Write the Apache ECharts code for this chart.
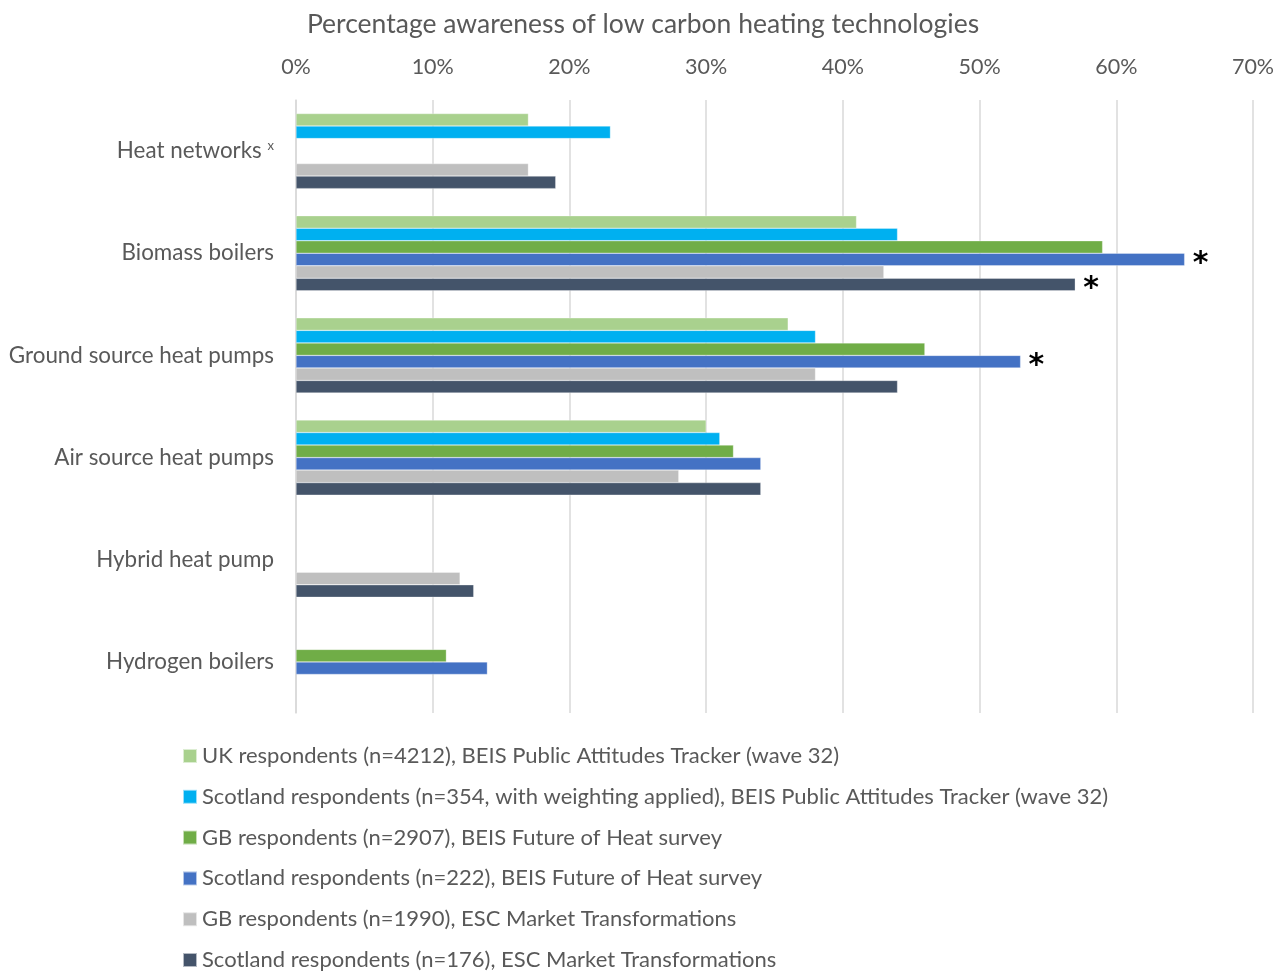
<!DOCTYPE html>
<html>
<head>
<meta charset="utf-8">
<script src="https://cdn.jsdelivr.net/npm/echarts@6/dist/echarts.min.js"></script>
<style>html,body{margin:0;padding:0;background:#fff}#c{width:1286px;height:972px}</style>
</head>
<body>
<div id="c"></div>
<script>
const categories = ['Heat networks', 'Biomass boilers', 'Ground source heat pumps', 'Air source heat pumps', 'Hybrid heat pump', 'Hydrogen boilers'];
const seriesNames = [
  'UK respondents (n=4212), BEIS Public Attitudes Tracker (wave 32)',
  'Scotland respondents (n=354, with weighting applied), BEIS Public Attitudes Tracker (wave 32)',
  'GB respondents (n=2907), BEIS Future of Heat survey',
  'Scotland respondents (n=222), BEIS Future of Heat survey',
  'GB respondents (n=1990), ESC Market Transformations',
  'Scotland respondents (n=176), ESC Market Transformations'
];
const ukPAT = [17, 41, 36, 30, null, null];
const scotPAT = [23, 44, 38, 31, null, null];
const gbFoH = [null, 59, 46, 32, null, 11];
const scotFoH = [null, 65, 53, 34, null, 14];
const gbESC = [17, 43, 38, 28, 12, null];
const scotESC = [19, 57, 44, 34, 13, null];
// significance markers (*)
const sigScotFoH = [false, true, true, false, false, false];
const sigScotESC = [false, true, false, false, false, false];
const xTicks = [0, 10, 20, 30, 40, 50, 60, 70];

const colors = ['#A9D18E', '#00B0F0', '#70AD47', '#4472C4', '#BFBFBF', '#44546A'];
const values = [ukPAT, scotPAT, gbFoH, scotFoH, gbESC, scotESC];
const sigs = [null, null, null, sigScotFoH, null, sigScotESC];
const FONT = 'Lato';

const chart = echarts.init(document.getElementById('c'));
chart.setOption({
  backgroundColor: '#fff',
  animation: false,
  textStyle: { fontFamily: FONT },
  title: {
    text: 'Percentage awareness of low carbon heating technologies',
    left: 'center', top: 6,
    textStyle: { fontFamily: FONT, fontSize: 26.5, fontWeight: 'normal', color: '#595959' }
  },
  legend: {
    orient: 'vertical', left: 177, top: 740, height: 300,
    itemWidth: 14, itemHeight: 14, itemGap: 18.8,
    icon: 'rect',
    textStyle: { fontFamily: FONT, fontSize: 22, lineHeight: 22, color: '#595959', padding: [0, 0, 0, 0] },
    data: seriesNames
  },
  grid: { left: 296, right: 33, top: 100, bottom: 259, containLabel: false },
  xAxis: {
    type: 'value', position: 'top', min: xTicks[0], max: xTicks[xTicks.length - 1], interval: 10,
    axisLabel: { formatter: v => v + '%', fontSize: 21.5, color: '#595959', margin: 22, fontFamily: FONT },
    axisLine: { show: false }, axisTick: { show: false },
    splitLine: { lineStyle: { color: '#D9D9D9', width: 1.5 } }
  },
  yAxis: {
    type: 'category', inverse: true, data: categories,
    axisLine: { show: true, lineStyle: { color: '#D9D9D9', width: 1.5 } },
    axisTick: { show: false },
    axisLabel: {
      fontSize: 22.4, color: '#595959', margin: 22, fontFamily: FONT,
      formatter: v => v === 'Heat networks' ? v + ' {sup|x}' : v,
      rich: { sup: { fontSize: 13, color: '#595959', verticalAlign: 'top', padding: [0, 0, 10, 0], fontFamily: FONT } }
    }
  },
  series: seriesNames.map((name, i) => ({
    name, type: 'bar',
    barGap: '0%', barCategoryGap: '26.5%',
    itemStyle: { color: colors[i], borderColor: 'rgba(255,255,255,0.6)', borderWidth: 0.5 },
    data: values[i].map((v, j) => {
      const item = { value: v == null ? '-' : v };
      if (sigs[i] && sigs[i][j]) {
        item.label = { show: true, position: 'right', distance: 8, formatter: '*', fontSize: 30, fontWeight: 'bold', color: '#000', offset: [0, 5], fontFamily: 'DejaVu Sans' };
      }
      return item;
    })
  }))
});
</script>
</body>
</html>
